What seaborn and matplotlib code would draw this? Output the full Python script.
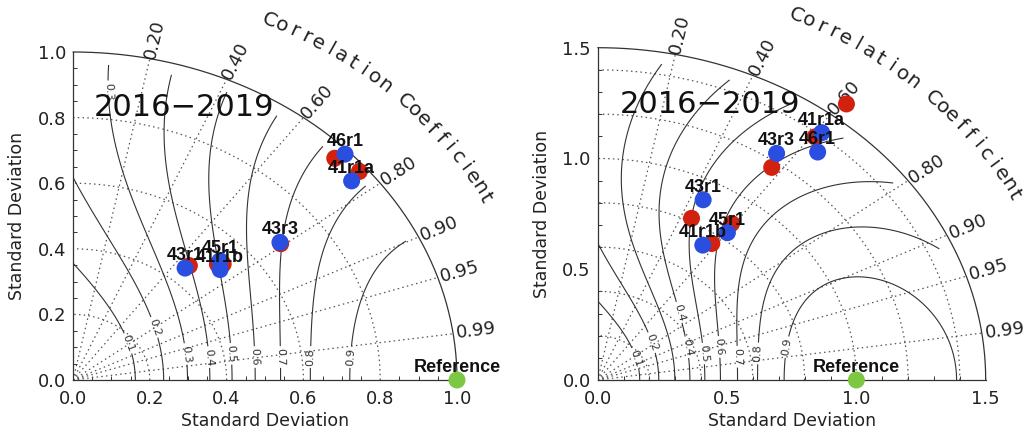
import numpy as np
import pandas as pd
import matplotlib
matplotlib.use("Agg")
import matplotlib.pyplot as plt
from matplotlib.ticker import MultipleLocator
import seaborn as sns

# ---------------------------------------------------------------- data
models = ["41r1a", "41r1b", "43r1", "43r3", "45r1", "46r1"]

# panel 1: normalised standard deviation and correlation
p1_std_red = [0.980, 0.527, 0.462, 0.682, 0.516, 0.960]
p1_cor_red = [0.761, 0.742, 0.656, 0.793, 0.729, 0.710]
p1_std_blue = [0.946, 0.510, 0.449, 0.683, 0.528, 0.988]
p1_cor_blue = [0.767, 0.751, 0.650, 0.789, 0.725, 0.717]

# panel 2
p2_std_red = [1.382, 0.758, 0.815, 1.172, 0.876, 1.574]
p2_cor_red = [0.608, 0.582, 0.445, 0.574, 0.591, 0.611]
p2_std_blue = [1.413, 0.732, 0.910, 1.235, 0.833, 1.335]
p2_cor_blue = [0.613, 0.555, 0.448, 0.560, 0.602, 0.637]

period = "2016\u22122019"
cor_ticks = [0.20, 0.40, 0.60, 0.80, 0.90, 0.95, 0.99]
skill_levels = [0.1, 0.2, 0.3, 0.4, 0.5, 0.6, 0.7, 0.8, 0.9]

RED = "#d2210f"
BLUE = "#2a4fe0"
GREEN = "#7cc843"
LINE = "#333333"

sns.set_theme(style="white")
plt.rcParams["font.family"] = ["DejaVu Sans"]

W, H, DPI = 10.28, 4.33, 100
fig = plt.figure(figsize=(W, H), dpi=DPI)


def frame(ax, smax):
    """Return pixels per data unit along x and y for an axes."""
    b = ax.get_position()
    return b.width * W * DPI / smax, b.height * H * DPI / smax


def draw_panel(ax, smax, major, minor, arcs, std_red, cor_red, std_blue,
               cor_blue, clabel_y, extra_clabels=()):
    sx, sy = frame(ax, smax)
    ax.set_xlim(0, smax)
    ax.set_ylim(0, smax)
    for s in ("top", "right"):
        ax.spines[s].set_visible(False)
    for s in ("left", "bottom"):
        ax.spines[s].set_color(LINE)
        ax.spines[s].set_linewidth(0.9)

    ticks = np.arange(0, smax + 1e-9, major)
    ax.set_xticks(ticks)
    ax.set_yticks(ticks)
    ax.set_xticklabels([f"{t:.1f}" for t in ticks])
    ax.set_yticklabels([f"{t:.1f}" for t in ticks])
    ax.xaxis.set_minor_locator(MultipleLocator(minor))
    ax.yaxis.set_minor_locator(MultipleLocator(minor))
    ax.tick_params(which="major", direction="in", length=7, width=0.8,
                   color=LINE, labelsize=13, labelcolor="#222222")
    ax.tick_params(axis="x", which="major", pad=7)
    ax.tick_params(axis="y", which="major", pad=5)
    ax.tick_params(which="minor", direction="in", length=3, width=0.7,
                   color=LINE, bottom=True, left=True)
    ax.set_xlabel("Standard Deviation", fontsize=12.5, color="#222222",
                  labelpad=3)
    ax.set_ylabel("Standard Deviation", fontsize=12.5, color="#222222",
                  labelpad=8)

    t = np.linspace(0, np.pi / 2, 300)
    # outer boundary
    ax.plot(smax * np.cos(t), smax * np.sin(t), color=LINE, lw=0.9,
            clip_on=False)
    # standard deviation arcs
    for r in arcs:
        ax.plot(r * np.cos(t), r * np.sin(t), color="#555555", lw=0.9,
                ls=(0, (1.2, 2.6)))
    # correlation rays and labels
    for c in cor_ticks:
        th = np.arccos(c)
        ax.plot([0, smax * np.cos(th)], [0, smax * np.sin(th)],
                color="#555555", lw=0.9, ls=(0, (1.2, 2.6)))
        rot = np.degrees(np.arctan2(np.sin(th) * sy, np.cos(th) * sx))
        rl = 1.06 * smax
        ax.text(rl * np.cos(th), rl * np.sin(th), f"{c:.2f}", fontsize=13,
                rotation=rot, rotation_mode="anchor", ha="center",
                va="center", color="#222222", clip_on=False)

    # arc title
    title = "Correlation Coefficient"
    angs = np.radians(np.linspace(65.0, 27.4, len(title)))
    rt = 1.21 * smax
    for ch, th in zip(title, angs):
        if ch == " ":
            continue
        rot = np.degrees(np.arctan2(-np.cos(th) * sy, np.sin(th) * sx))
        ax.text(rt * np.cos(th), rt * np.sin(th), ch, fontsize=14.5,
                rotation=rot, rotation_mode="anchor", ha="center",
                va="center", color="#222222", clip_on=False)

    # skill score contours on a polar grid
    rr = np.linspace(1e-3, 0.965 * smax, 300)
    tt = np.linspace(0, np.pi / 2, 300)
    R, T = np.meshgrid(rr, tt)
    X, Y = R * np.cos(T), R * np.sin(T)
    Z = ((1 + np.cos(T)) / (R + 1 / R)) ** 2
    cs = ax.contour(X, Y, Z, levels=skill_levels, colors=LINE,
                    linewidths=0.8)
    pos = []
    for lev, yl in zip(skill_levels, clabel_y):
        b = 2 / np.sqrt(lev)
        x0 = (b - np.sqrt(b * b - 4)) / 2
        pos.append((x0, yl * smax))
    pos += list(extra_clabels)
    ax.clabel(cs, fmt="%.1f", fontsize=8, manual=pos, inline=True,
              inline_spacing=2)

    # model points
    rows = []
    for name, std, cor, run in (
        [(m, s, c, "red") for m, s, c in zip(models, std_red, cor_red)]
        + [(m, s, c, "blue") for m, s, c in zip(models, std_blue, cor_blue)]
    ):
        rows.append({"model": name, "run": run,
                     "x": std * cor, "y": std * np.sqrt(1 - cor ** 2)})
    df = pd.DataFrame(rows)
    for run, col in (("red", RED), ("blue", BLUE)):
        sub = df[df["run"] == run]
        sns.scatterplot(data=sub, x="x", y="y", ax=ax, color=col, s=150,
                        edgecolor="none", zorder=5, clip_on=False,
                        legend=False)
        if run == "blue":
            for _, r in sub.iterrows():
                ax.annotate(r["model"], (r["x"], r["y"]),
                            xytext=(0, 9), textcoords="offset points",
                            ha="center", va="center", fontsize=13,
                            family="Liberation Sans", weight="bold",
                            color="#111111", zorder=6,
                            annotation_clip=False)

    # reference point
    ax.scatter([1.0], [0.0], s=150, color=GREEN, edgecolor="none",
               zorder=7, clip_on=False)
    ax.annotate("Reference", (1.0, 0.0), xytext=(0, 9),
                textcoords="offset points", ha="center", va="center",
                fontsize=13, family="Liberation Sans", weight="bold",
                color="#111111", zorder=7, annotation_clip=False)

    ax.text(0.29, 0.83, period, transform=ax.transAxes, fontsize=22,
            ha="center", va="center", color="#111111", zorder=4)


ax1 = fig.add_axes([73 / 1028, 53 / 433, 384 / 1028, 328 / 433])
ax2 = fig.add_axes([597.7 / 1028, 53 / 433, 388 / 1028, 332.3 / 433])

draw_panel(ax1, 1.0, 0.2, 0.05, [0.2, 0.4, 0.6, 0.8],
           p1_std_red, p1_cor_red, p1_std_blue, p1_cor_blue,
           [0.12, 0.17, 0.08, 0.07, 0.08, 0.07, 0.07, 0.07, 0.07],
           extra_clabels=[(0.09, 0.88)])
draw_panel(ax2, 1.5, 0.5, 0.1, [0.2, 0.4, 0.6, 0.8, 1.0, 1.2, 1.4],
           p2_std_red, p2_cor_red, p2_std_blue, p2_cor_blue,
           [0.07, 0.12, 0.2, 0.1, 0.08, 0.1, 0.07, 0.08, 0.1])

fig.savefig("out.png", dpi=DPI)
